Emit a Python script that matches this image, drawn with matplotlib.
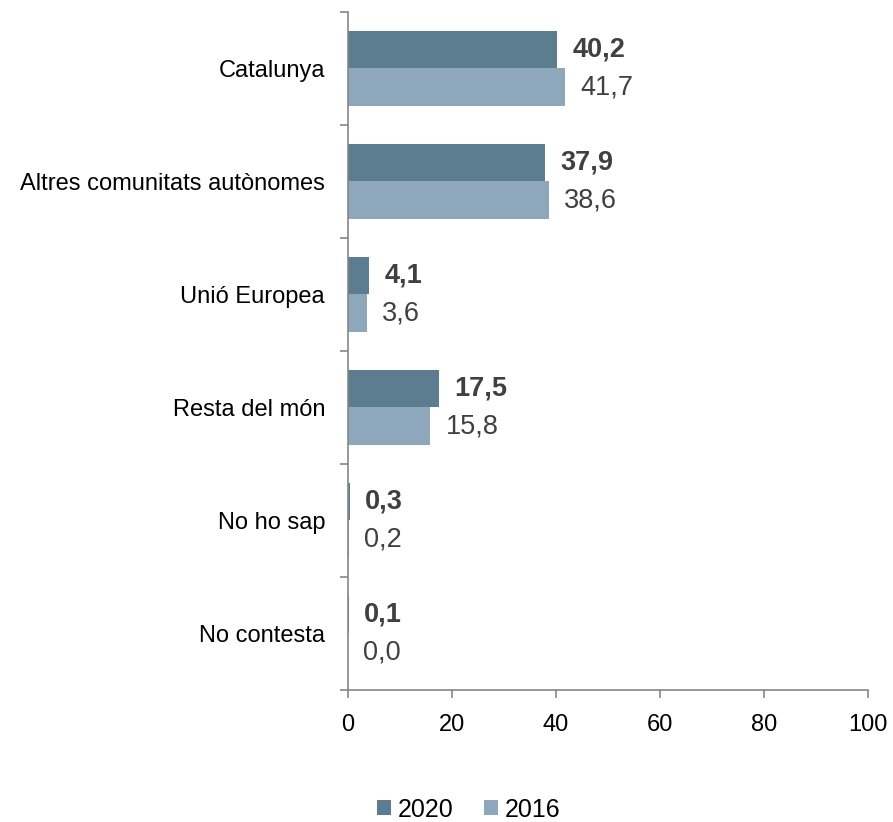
import numpy as np
import matplotlib
matplotlib.use("Agg")
import matplotlib.pyplot as plt

plt.rcParams['font.family'] = ['Liberation Sans', 'DejaVu Sans']

# data
categories = ["Catalunya", "Altres comunitats autònomes", "Unió Europea",
              "Resta del món", "No ho sap", "No contesta"]
vals_2020 = [40.2, 37.9, 4.1, 17.5, 0.3, 0.1]
vals_2016 = [41.7, 38.6, 3.6, 15.8, 0.2, 0.0]
series_names = ["2020", "2016"]
xticks = [0, 20, 40, 60, 80, 100]

col_2020 = "#5b7d8f"
col_2016 = "#8fa7bb"
axis_col = "#868686"
txt_col = "#404040"

fig = plt.figure(figsize=(8.93, 8.22), dpi=100)
ax = fig.add_axes([0.3897, 0.1606, 0.972 - 0.3897, 0.9854 - 0.1606])

y = np.arange(len(categories))
h = 0.33
b1 = ax.barh(y - h / 2, vals_2020, height=h, color=col_2020, label=series_names[0])
b2 = ax.barh(y + h / 2, vals_2016, height=h, color=col_2016, label=series_names[1])

def fmt(v):
    return f"{v:.1f}".replace(".", ",")

for yi, v in zip(y, vals_2020):
    ax.annotate(fmt(v), (v, yi - h / 2), xytext=(11, 0), textcoords="offset points",
                va="center", ha="left", fontsize=19.5, fontweight="bold", color=txt_col)
for yi, v in zip(y, vals_2016):
    ax.annotate(fmt(v), (v, yi + h / 2), xytext=(11, 0), textcoords="offset points",
                va="center", ha="left", fontsize=19.5, color=txt_col)

ax.set_xlim(0, 100)
ax.set_ylim(len(categories) - 0.5, -0.5)
ax.set_xticks(xticks)
ax.set_xticklabels([str(t) for t in xticks], fontsize=17)

# category labels centred, tick marks at boundaries
ax.set_yticks(y)
ax.set_yticklabels(categories, fontsize=17)
ax.tick_params(axis="y", length=0, pad=16.5)
ax.set_yticks(np.arange(-0.5, len(categories)), minor=True)
ax.tick_params(axis="y", which="minor", length=6, color=axis_col, width=1.2)
ax.tick_params(axis="x", length=6, color=axis_col, width=1.2, pad=11)

for s in ["top", "right"]:
    ax.spines[s].set_visible(False)
for s in ["left", "bottom"]:
    ax.spines[s].set_color(axis_col)
    ax.spines[s].set_linewidth(1.2)

fig.legend(handles=[b1, b2], loc="center", bbox_to_anchor=(0.525, 0.015),
           ncol=2, frameon=False, fontsize=18, handlelength=0.55, handleheight=0.55,
           handletextpad=0.3, columnspacing=1.2)

fig.savefig("out.png", dpi=100)
